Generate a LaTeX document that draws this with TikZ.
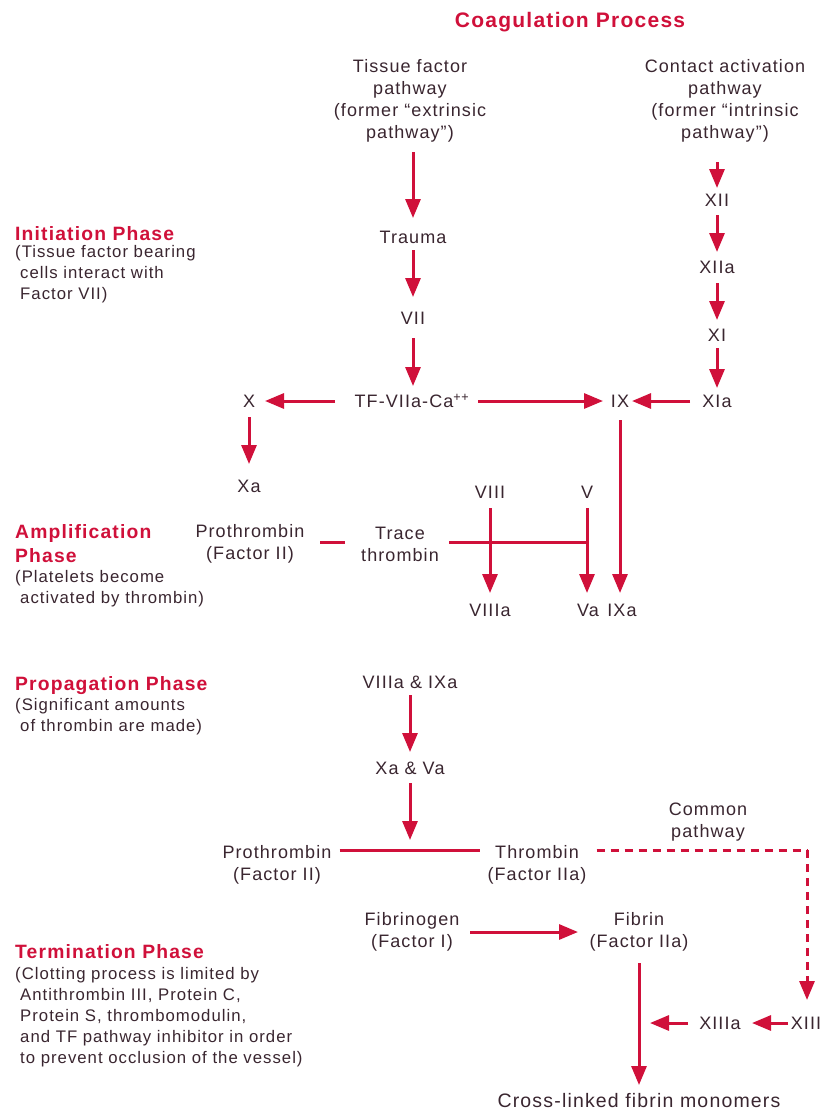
\documentclass[tikz,border=0pt]{standalone}
\usepackage{fontspec}
\setmainfont{Liberation Sans}[LetterSpace=6]
\usetikzlibrary{arrows.meta}
\definecolor{cred}{HTML}{D0103A}
\definecolor{ctxt}{HTML}{3A2630}
\begin{document}
\begin{tikzpicture}[x=1pt,y=-1pt,
  lbl/.style={text=ctxt, font=\fontsize{18}{22}\selectfont, align=center, inner sep=0pt},
  ttl/.style={text=cred, font=\fontsize{19.3}{24}\selectfont\bfseries, align=left, inner sep=0pt, anchor=north west},
  desc/.style={text=ctxt, font=\fontsize{16.75}{21}\selectfont, align=left, inner sep=0pt, anchor=north west},
  arr/.style={draw=cred, line width=3pt, -{Triangle[length=19pt,width=15pt]}},
  ln/.style={draw=cred, line width=3pt},
  dsh/.style={draw=cred, line width=3pt, dash pattern=on 8pt off 6pt}]
\useasboundingbox (0,0) rectangle (824,1113);
\fill[white] (0,0) rectangle (824,1113);

% title
\node[text=cred, font=\fontsize{21}{24}\selectfont\bfseries, inner sep=0pt, anchor=north] (title) at (570,12) {Coagulation Process};

% phases
\node[ttl] (ini) at (15,226) {Initiation Phase};
\node[desc] (inid) at (15,245) {(Tissue factor bearing\\\hspace*{5pt}cells interact with\\\hspace*{5pt}Factor VII)};
\node[ttl] (amp) at (15,524) {Amplification\\Phase};
\node[desc] (ampd) at (15,570) {(Platelets become\\\hspace*{5pt}activated by thrombin)};
\node[ttl] (pro) at (15,676) {Propagation Phase};
\node[desc] (prod) at (15,698) {(Significant amounts\\\hspace*{5pt}of thrombin are made)};
\node[ttl] (ter) at (15,944) {Termination Phase};
\node[desc] (terd) at (15,967) {(Clotting process is limited by\\\hspace*{5pt}Antithrombin III, Protein C,\\\hspace*{5pt}Protein S, thrombomodulin,\\\hspace*{5pt}and TF pathway inhibitor in order\\\hspace*{5pt}to prevent occlusion of the vessel)};

% nodes
\node[lbl] (tissue) at (410,101) {Tissue factor\\pathway\\(former “extrinsic\\pathway”)};
\node[lbl] (contact) at (725,101) {Contact activation\\pathway\\(former “intrinsic\\pathway”)};
\node[lbl] (trauma) at (413,237) {Trauma};
\node[lbl] (vii) at (413,318) {VII};
\node[lbl] (tf) at (412,401) {TF-VIIa-Ca\textsuperscript{++}};
\node[lbl] (xii) at (717,200) {XII};
\node[lbl] (xiia) at (717,267) {XIIa};
\node[lbl] (xi) at (717,335) {XI};
\node[lbl] (xia) at (717,401) {XIa};
\node[lbl] (x) at (249,401) {X};
\node[lbl] (ix) at (620,401) {IX};
\node[lbl] (xa) at (249,486) {Xa};
\node[lbl] (viii) at (490,492) {VIII};
\node[lbl] (v) at (587,492) {V};
\node[lbl] (proth1) at (250,544) {Prothrombin\\(Factor II)};
\node[lbl] (trace) at (400,544) {Trace\\thrombin};
\node[lbl] (viiia) at (490,610) {VIIIa};
\node[lbl] (va) at (588,610) {Va};
\node[lbl] (ixa) at (622,610) {IXa};
\node[lbl] (viiiaixa) at (410,682) {VIIIa \& IXa};
\node[lbl] (xava) at (410,768) {Xa \& Va};
\node[lbl] (proth2) at (277,865) {Prothrombin\\(Factor II)};
\node[lbl] (thrombin) at (537,865) {Thrombin\\(Factor IIa)};
\node[lbl] (common) at (708,822) {Common\\pathway};
\node[lbl] (fibrinogen) at (412,932) {Fibrinogen\\(Factor I)};
\node[lbl] (fibrin) at (639,932) {Fibrin\\(Factor IIa)};
\node[lbl] (xiii) at (806,1023) {XIII};
\node[lbl] (xiiia) at (720,1023) {XIIIa};
\node[lbl, font=\fontsize{19.5}{22}\selectfont] (cross) at (639,1101) {Cross-linked fibrin monomers};

\coordinate (meet) at (410,850);
\coordinate (corner) at (807,850);

% initiation connectors
\draw[arr, shorten <=51pt, shorten >=19pt] (tissue.center -| trauma.center) -- (trauma.center);
\draw[arr, shorten <=13pt, shorten >=21pt] (trauma.center) -- (vii.center);
\draw[arr, shorten <=20pt, shorten >=15pt] (vii.center) -- (tf.center -| vii.center);
\draw[arr, shorten <=61pt, shorten >=12pt] (contact.center -| xii.center) -- (xii.center);
\draw[arr, shorten <=15pt, shorten >=15pt] (xii.center) -- (xiia.center);
\draw[arr, shorten <=16pt, shorten >=15pt] (xiia.center) -- (xi.center);
\draw[arr, shorten <=13pt, shorten >=13pt] (xi.center) -- (xia.center);
\draw[arr, shorten <=77pt, shorten >=16pt] (tf.center) -- (x.center);
\draw[arr, shorten <=66pt, shorten >=17pt] (tf.center) -- (ix.center);
\draw[arr, shorten <=27pt, shorten >=12pt] (xia.center) -- (ix.center);
\draw[arr, shorten <=16pt, shorten >=22pt] (x.center) -- (xa.center);

% amplification connectors
\draw[arr, shorten <=19pt, shorten >=17pt] (ix.center) -- (ix.center |- ixa.center);
\draw[arr, shorten <=16pt, shorten >=17pt] (viii.center) -- (viiia.center);
\draw[arr, shorten <=16pt, shorten >=17pt] (v.center) -- (v.center |- va.center);
\draw[ln, shorten <=10pt] (trace.east |- 0,542) -- (v.center |- 0,542);
\draw[ln, shorten <=70pt, shorten >=55pt] (proth1.center |- 0,542) -- (trace.center |- 0,542);

% propagation connectors
\draw[arr, shorten <=13pt, shorten >=16pt] (viiiaixa.center) -- (xava.center);
\draw[arr, shorten <=15pt, shorten >=10pt] (xava.center) -- (meet);
\draw[ln, shorten <=8pt, shorten >=7pt] (proth2.east |- meet) -- (thrombin.west |- meet);
\draw[dsh, shorten <=10pt] (thrombin.east |- meet) -- (corner);
\draw[dsh, -{Triangle[length=19pt,width=15pt]}, shorten >=23pt] (corner) -- (corner |- xiii.center);

% termination connectors
\draw[arr, shorten <=58pt, shorten >=61pt] (fibrinogen.center) -- (fibrin.center);
\draw[arr, shorten <=31pt, shorten >=16pt] (fibrin.center) -- (cross.center);
\draw[arr, shorten <=18pt, shorten >=32pt] (xiii.center) -- (xiiia.center);
\draw[arr, shorten <=32pt, shorten >=11pt] (xiiia.center) -- (xiiia.center -| fibrin.center);
\end{tikzpicture}
\end{document}
